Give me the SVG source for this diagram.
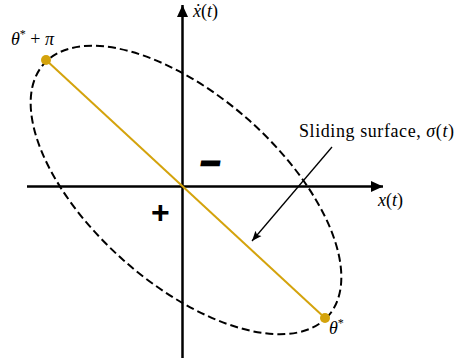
<svg xmlns="http://www.w3.org/2000/svg" width="456" height="363" viewBox="0 0 456 363">
<style>
.axis{stroke:#000;stroke-width:2.5;fill:none}
.ell{stroke:#000;stroke-width:2;fill:none;stroke-dasharray:8 4}
.surf{stroke:#d4a30c;stroke-width:2;fill:none}
.dot{fill:#d4a30c}
.math{font-family:"Liberation Serif","DejaVu Serif",serif;font-size:18px;fill:#000}
.it{font-style:italic}
.sign{font-family:"Liberation Sans",Arial,sans-serif;font-weight:bold;fill:#000}
</style>
<defs>
<marker id="ah" viewBox="0 0 12 12" refX="12" refY="6" markerWidth="12" markerHeight="12" markerUnits="userSpaceOnUse" orient="auto">
<path d="M0,0.5 L12,6 L0,11.5 Z" fill="#000"/>
</marker>
<marker id="sa" viewBox="0 0 10 10" refX="10" refY="5" markerWidth="10" markerHeight="10" markerUnits="userSpaceOnUse" orient="auto">
<path d="M0,1 L10,5 L0,9 L2,5 Z" fill="#000"/>
</marker>
</defs>
<g id="connectors">
<line class="axis" x1="27" y1="186.5" x2="383" y2="186.5" marker-end="url(#ah)"/>
<line class="axis" x1="182.5" y1="358" x2="182.5" y2="5" marker-end="url(#ah)"/>
<line x1="332" y1="147" x2="252" y2="241" stroke="#000" stroke-width="1.3" marker-end="url(#sa)"/>
</g>
<g id="region">
<ellipse class="ell" cx="186" cy="190" rx="190" ry="94" transform="rotate(41.5 186 190)"/>
</g>
<g id="surface">
<line class="surf" x1="46" y1="60" x2="325" y2="318"/>
<circle class="dot" cx="46" cy="60" r="5"/>
<circle class="dot" cx="325" cy="318" r="5"/>
</g>
<g id="labels">
<text class="math" x="11" y="45"><tspan class="it">θ</tspan><tspan font-size="12" dy="-7">*</tspan><tspan dy="7"> + </tspan><tspan class="it">π</tspan></text>
<text class="math" x="329" y="334"><tspan class="it">θ</tspan><tspan font-size="12" dy="-7">*</tspan></text>
<text class="math" x="193" y="17"><tspan class="it">ẋ</tspan>(<tspan class="it">t</tspan>)</text>
<text class="math" x="378" y="206"><tspan class="it">x</tspan>(<tspan class="it">t</tspan>)</text>
<text class="math" x="299" y="137" textLength="155" lengthAdjust="spacing">Sliding surface, <tspan class="it">σ</tspan>(<tspan class="it">t</tspan>)</text>
</g>
<g id="signs">
<text class="sign" x="201" y="172" font-size="34" font-style="italic" stroke="#000" stroke-width="2.5">–</text>
<text class="sign" x="151" y="223" font-size="32">+</text>
</g>
</svg>
